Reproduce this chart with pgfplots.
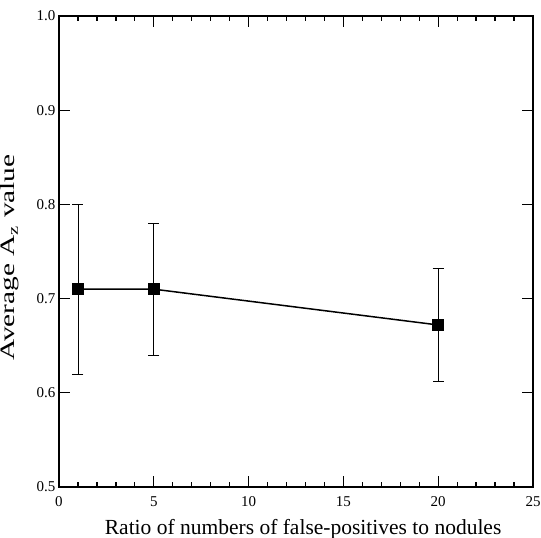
\documentclass[border=0pt]{standalone}
\usepackage{fontspec}
\setmainfont{Liberation Serif}
\usepackage{pgfplots}
\pgfplotsset{compat=1.18}
\begin{document}
\begin{tikzpicture}
\begin{axis}[
  scale only axis, width=474pt, height=471pt,
  xmin=0, xmax=25, ymin=0.5, ymax=1.0,
  xtick={0,5,...,25}, ytick={0.5,0.6,...,1.0},
  minor x tick num=4,
  yticklabel style={/pgf/number format/.cd,fixed,fixed zerofill,precision=1},
  /pgf/number format/assume math mode=true,
  tick align=inside, tick pos=both,
  major tick length=11pt, minor tick length=5pt,
  every tick/.style={black, line width=1.3pt},
  axis line style={line width=1.6pt},
  tick label style={font=\fontsize{15}{17}\selectfont},
  xticklabel style={anchor=center, yshift=-15pt},
  xlabel style={font=\fontsize{21.5}{25}\selectfont},
  ylabel style={font=\fontsize{20.5}{24}\selectfont},
  xlabel={Ratio of numbers of false-positives to nodules},
  ylabel={\scalebox{1.43}[1]{Average A$_{\mathrm{z}}$ value}},
  xlabel style={at={(axis description cs:0.515,-0.0892)}, anchor=center},
  ylabel style={at={(axis description cs:-0.1035,0.487)}, anchor=center},
]
\addplot[black, line width=1.5pt, mark=square*, mark size=5.5pt,
  error bars/.cd, y dir=both, y explicit,
  error bar style={line width=0.8pt},
  error mark options={rotate=90, mark size=5.5pt, line width=0.8pt}]
  coordinates {
  (1,0.71) +- (0,0.09)
  (5,0.71) +- (0,0.07)
  (20,0.672) +- (0,0.06)
};
\end{axis}
\pgfresetboundingbox
\path ([shift={(-59pt,-51pt)}]current axis.south west) rectangle ([shift={(8pt,16pt)}]current axis.north east);
\end{tikzpicture}
\end{document}
